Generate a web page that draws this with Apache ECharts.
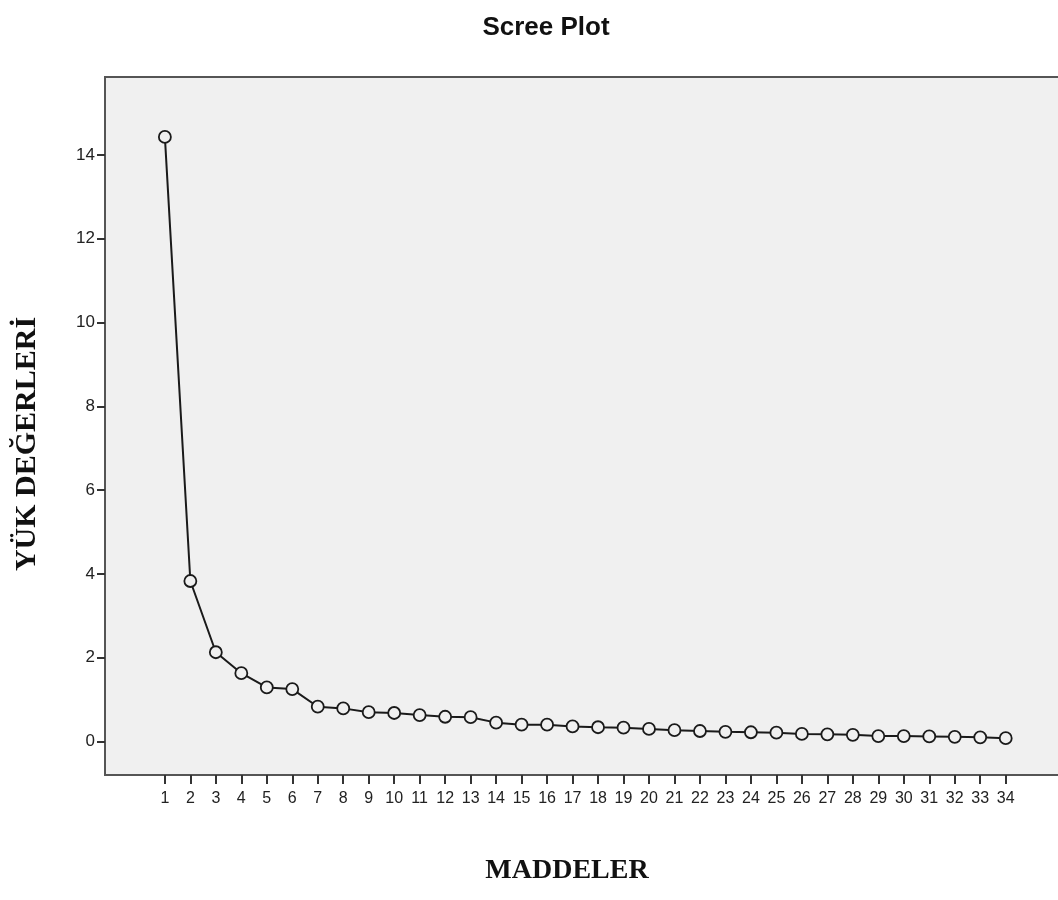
<!DOCTYPE html>
<html>
<head>
<meta charset="utf-8">
<script src="https://cdn.jsdelivr.net/npm/echarts@6/dist/echarts.min.js"></script>
<style>html,body{margin:0;padding:0;background:#fff;}#c{width:1058px;height:900px;}</style>
</head>
<body>
<div id="c"></div>
<script>
const items = [1,2,3,4,5,6,7,8,9,10,11,12,13,14,15,16,17,18,19,20,21,22,23,24,25,26,27,28,29,30,31,32,33,34];
const eigenvalues = [14.43,3.83,2.13,1.63,1.29,1.25,0.83,0.79,0.70,0.68,0.63,0.59,0.58,0.45,0.40,0.40,0.36,0.34,0.33,0.30,0.27,0.25,0.23,0.22,0.21,0.18,0.17,0.16,0.13,0.13,0.12,0.11,0.10,0.08];
const yTicks = [0,2,4,6,8,10,12,14];
const titleText = 'Scree Plot';
const xName = 'MADDELER';
const yName = 'YÜK DEĞERLERİ';

const chart = echarts.init(document.getElementById('c'), null, {renderer:'canvas'});
const borderColor = '#555';
const serif = 'Liberation Serif, Times New Roman, serif';
chart.setOption({
  animation:false,
  backgroundColor:'#fff',
  title:{text:titleText,left:541,textAlign:'center',top:10,textStyle:{fontFamily:'Liberation Sans, Arial',fontWeight:'bold',fontSize:26,color:'#111'}},
  grid:{left:105,top:77,right:-3,bottom:125,show:true,backgroundColor:'#f0f0f0',borderWidth:2,borderColor:borderColor,containLabel:false,outerBoundsMode:'none'},
  graphic:[
    {type:'text',x:567,y:871,style:{text:xName,x:0,y:0,align:'center',verticalAlign:'middle',font:'bold 28px ' + serif,fill:'#111'}},
    {type:'text',x:27,y:444,rotation:Math.PI/2,style:{text:yName,x:0,y:0,align:'center',verticalAlign:'middle',font:'bold 30px ' + serif,fill:'#111'}}
  ],
  xAxis:{
    type:'value',min:-1.35,max:36.17,
    axisLine:{show:false,onZero:false},
    axisTick:{show:true,length:9,customValues:items,lineStyle:{color:'#333',width:2}},
    axisLabel:{customValues:items,margin:16,fontFamily:'Liberation Sans, Arial',fontSize:16,color:'#222'},
    splitLine:{show:false}
  },
  yAxis:{
    type:'value',min:-0.8,max:15.86,
    axisLine:{show:false,onZero:false},
    axisTick:{show:true,length:8,customValues:yTicks,lineStyle:{color:'#333',width:2}},
    axisLabel:{customValues:yTicks,margin:10,fontFamily:'Liberation Sans, Arial',fontSize:17,color:'#222'},
    splitLine:{show:false}
  },
  series:[{
    type:'line',
    data:items.map((x,i)=>[x,eigenvalues[i]]),
    symbol:'circle',symbolSize:12,
    lineStyle:{color:'#1a1a1a',width:2},
    itemStyle:{color:'#f0f0f0',borderColor:'#1a1a1a',borderWidth:1.8},
    z:3
  }]
});
</script>
</body>
</html>
